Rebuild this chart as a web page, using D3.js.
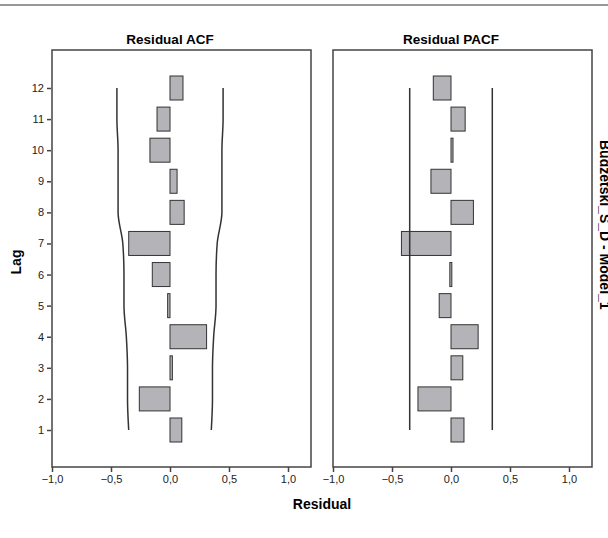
<!DOCTYPE html>
<html><head><meta charset="utf-8">
<script src="https://cdn.jsdelivr.net/npm/d3@7"></script>
<style>body{margin:0;background:#fff}text{font-family:Arial,"Liberation Sans",sans-serif}</style>
</head><body><svg id="c" width="608" height="538"></svg>
<script>
// lags and residual values
const lags = [1,2,3,4,5,6,7,8,9,10,11,12];
const acf = [0.10,-0.26,0.02,0.31,-0.02,-0.15,-0.35,0.12,0.06,-0.17,-0.11,0.11];
const acfBound = [0.35,0.36,0.36,0.37,0.39,0.39,0.40,0.44,0.44,0.44,0.45,0.45];
const pacf = [0.11,-0.28,0.10,0.23,-0.10,-0.01,-0.42,0.19,-0.17,0.01,0.12,-0.15];
const pacfBound = lags.map(() => 0.35);
const xTicks = [-1,-0.5,0,0.5,1];

const svg = d3.select("#c");
svg.append("line").attr("x1",0).attr("x2",608).attr("y1",5).attr("y2",5).attr("stroke","#333");

const y = d3.scaleLinear().domain([1,12]).range([430,88]);
const fmt = d => d3.format(".1f")(d).replace(".", ",");

function panel(x0, title, vals, bound) {
  const x = d3.scaleLinear().domain([-1,1]).range([x0, x0+236]);
  const g = svg.append("g");
  g.append("rect").attr("x",x0).attr("y",50).attr("width",259).attr("height",417)
    .attr("fill","none").attr("stroke","#444").attr("stroke-width",1.5);
  g.append("text").attr("x",x(0)).attr("y",44).attr("text-anchor","middle")
    .attr("font-weight","bold").attr("font-size",13.5).text(title);
  g.append("g").attr("transform","translate(0,467)")
    .call(d3.axisBottom(x).tickValues(xTicks).tickFormat(fmt).tickSize(5))
    .call(a => a.select(".domain").remove())
    .call(a => a.selectAll("line").attr("stroke","#444").attr("stroke-width",1.5))
    .call(a => a.selectAll("text").attr("font-size",11).attr("fill","#222"));
  g.selectAll(".bar").data(lags).join("rect")
    .attr("x", (d,i) => x(Math.min(0, vals[i])))
    .attr("width", (d,i) => Math.max(2, Math.abs(x(vals[i]) - x(0))))
    .attr("y", d => y(d) - 12).attr("height", 24)
    .attr("fill","#b4b4b8").attr("stroke","#333");
  const line = d3.line().x(d => d[0]).y(d => d[1]).curve(d3.curveMonotoneY);
  [1,-1].forEach(s => {
    g.append("path").attr("fill","none").attr("stroke","#333").attr("stroke-width",1.5)
      .attr("d", line(lags.map((l,i) => [x(s*bound[i]), y(l)])));
  });
  return x;
}

panel(52, "Residual ACF", acf, acfBound);
panel(333, "Residual PACF", pacf, pacfBound);

svg.append("g").attr("transform","translate(51,0)")
  .call(d3.axisLeft(y).tickValues(lags).tickSize(4))
  .call(a => a.select(".domain").remove())
  .call(a => a.selectAll("line").attr("stroke","#444").attr("stroke-width",1.5))
  .call(a => a.selectAll("text").attr("font-size",11).attr("fill","#222"));

svg.append("text").attr("transform","translate(21,262) rotate(-90)").attr("text-anchor","middle")
  .attr("font-weight","bold").attr("font-size",14).text("Lag");
svg.append("text").attr("x",322).attr("y",509).attr("text-anchor","middle")
  .attr("font-weight","bold").attr("font-size",14).text("Residual");
svg.append("text").attr("transform","translate(600,140) rotate(90)").attr("text-anchor","start")
  .attr("font-weight","bold").attr("font-size",14).text("Budzetski_S_D - Model_1");
</script></body></html>
